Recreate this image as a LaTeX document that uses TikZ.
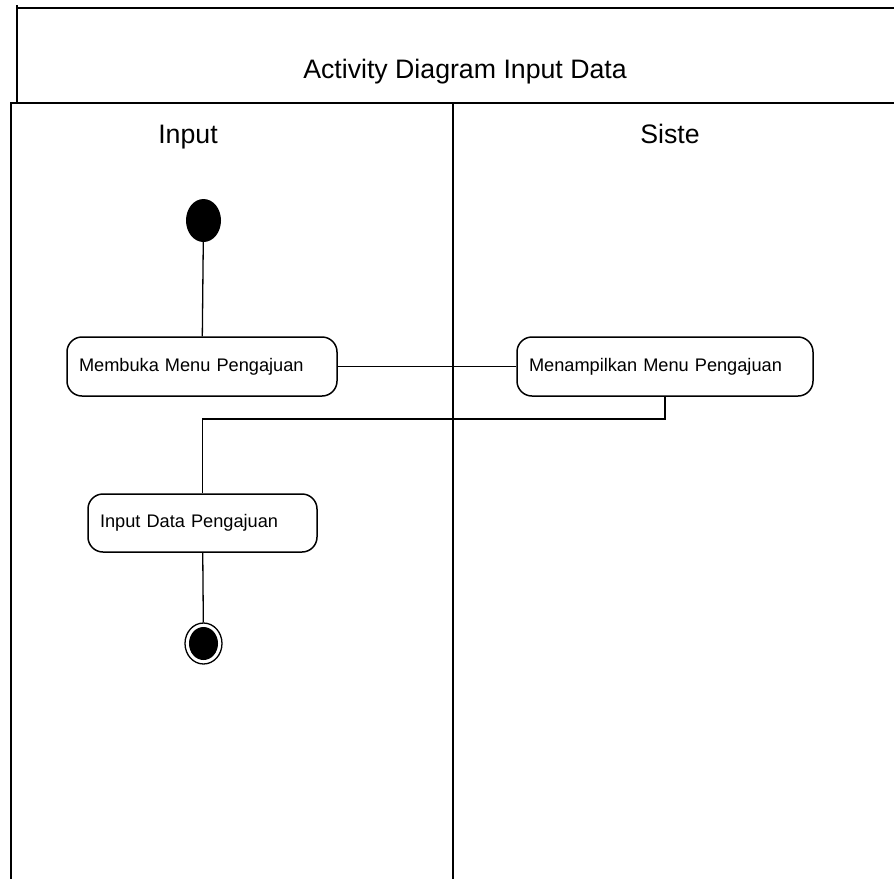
\documentclass[tikz,border=0pt]{standalone}
\usepackage{fontspec}
\setmainfont{Liberation Sans}
\usetikzlibrary{shapes.geometric}

\begin{document}
\begin{tikzpicture}[x=1pt, y=-1pt,
  frame/.style={line width=1.8pt, black},
  flow/.style={line width=1.3pt, black},
  action/.style={draw, line width=1.5pt, rounded corners=15pt, inner xsep=12pt,
    inner ysep=0pt, align=left, font=\fontsize{18.2}{21}\selectfont},
  heading/.style={anchor=base, font=\fontsize{26.7}{30}\selectfont},
  initial/.style={ellipse, fill=black, inner sep=0pt, minimum width=35pt, minimum height=43pt},
  finalring/.style={ellipse, draw, line width=1.3pt, inner sep=0pt, minimum width=37pt, minimum height=41pt},
  finaldot/.style={ellipse, fill=black, inner sep=0pt, minimum width=29pt, minimum height=33pt}]

  \useasboundingbox (0,0) rectangle (894,879);

  % title frame
  \draw[frame] (17,5) -- (17,103);
  \draw[frame] (16,8) -- (894,8);
  \node[heading] (title) at (465,78) {Activity Diagram Input Data};

  % swimlanes
  \draw[frame] (10,103) -- (894,103);
  \draw[frame] (11,103) -- (11,879);
  \draw[frame] (453,103) -- (453,879);
  \node[heading] (laneA) at (188,143.5) {Input};
  \node[heading] (laneB) at (670,143.5) {Siste};

  % activities
  \node[initial] (start) at (203.5,220.5) {};
  \node[action, text width=246pt, minimum height=59pt] (b1) at (202,366.5) {Membuka Menu Pengajuan};
  \node[action, text width=272pt, minimum height=59pt] (b2) at (665,366.5) {Menampilkan Menu Pengajuan};
  \node[action, text width=205pt, minimum height=58pt] (b3) at (202.5,523) {Input Data Pengajuan};
  \node[finalring] (end) at (203.5,643.5) {};
  \node[finaldot] (enddot) at (end.center) {};

  % control flow
  \coordinate (turn) at (665,419);
  \draw[flow] (start) -- (b1);
  \draw[flow] (b1) -- (b2);
  \draw[flow] (b2.south) -- (turn) -| (b3.north);
  \draw[flow] (b3) -- (end);
\end{tikzpicture}
\end{document}
